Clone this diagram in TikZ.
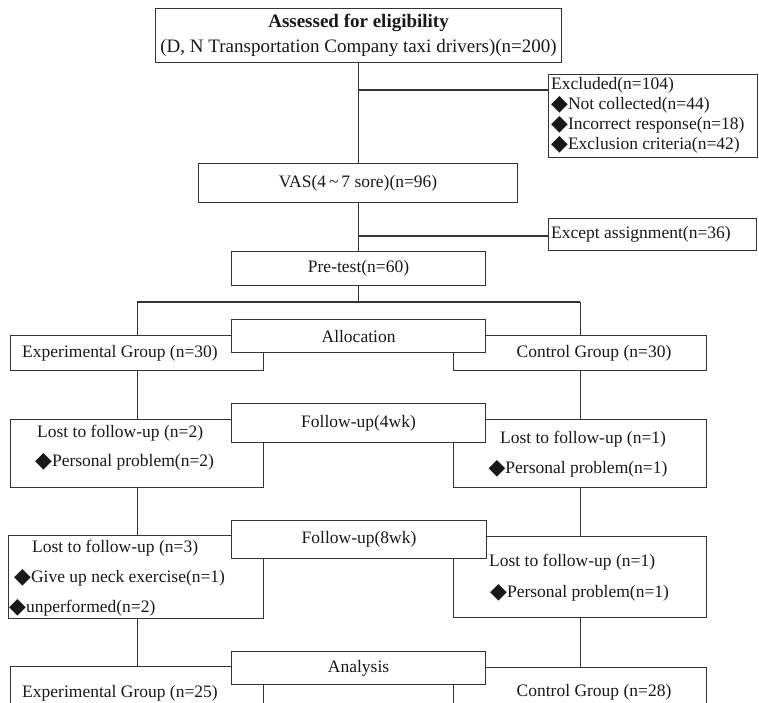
\documentclass[tikz,border=0pt]{standalone}
\usepackage{fontspec}
\setmainfont{Liberation Serif}
\newfontfamily\dvfont[Scale=1.25]{DejaVu Sans}
\newcommand\dmd{{\dvfont\raisebox{-0.5pt}{◆}}}
\definecolor{ln}{HTML}{333333}
\begin{document}
\begin{tikzpicture}[x=1pt,y=-1pt,
  every node/.style={font=\fontsize{17.5}{20}\selectfont, text=black!90},
  box/.style={draw=ln, line width=1.1pt, fill=white, inner sep=0, anchor=north west},
  conn/.style={draw=ln, line width=1.1pt},
  lbl/.style={inner sep=0, anchor=west},
  ctr/.style={inner sep=0}]
\useasboundingbox (0,0) rectangle (759,702);
\clip (0,0) rectangle (759,702);
\fill[white] (0,0) rectangle (759,702);

% top part
\node[box, minimum width=406, minimum height=54, align=center,
      font=\fontsize{19}{25}\selectfont] (top) at (155,8)
  {\textbf{Assessed for eligibility}\\(D, N Transportation Company taxi drivers)(n=200)};
\node[box, minimum width=209, minimum height=83] (exc) at (548,74) {};
\node[lbl] (exc1) at (551,85) {Excluded(n=104)};
\node[lbl] (exc2) at (551,105) {\dmd Not collected(n=44)};
\node[lbl] (exc3) at (551,125) {\dmd Incorrect response(n=18)};
\node[lbl] (exc4) at (551,145) {\dmd Exclusion criteria(n=42)};
\node[box, minimum width=319, minimum height=39] (vas) at (198,163) {VAS(4\,\char"007E\,7 sore)(n=96)};
\node[box, minimum width=208, minimum height=32] (exa) at (548,218) {};
\node[lbl] (exat) at (551,234) {Except assignment(n=36)};
\node[box, minimum width=254, minimum height=34] (pre) at (231,251) {Pre-test(n=60)};

% allocation row
\node[box, minimum width=253, minimum height=35] (expA) at (10,335) {};
\node[box, minimum width=253, minimum height=35] (conA) at (453,335) {};
\node[box, minimum width=254, minimum height=33] (alloc) at (231,319) {Allocation};
\node[ctr] (expAt) at (120,353) {Experimental Group (n=30)};
\node[ctr] (conAt) at (594,353) {Control Group (n=30)};

% follow-up 4wk row
\node[box, minimum width=253, minimum height=68] (lostL1) at (10,419) {};
\node[box, minimum width=253, minimum height=68] (lostR1) at (453,419) {};
\node[box, minimum width=254, minimum height=39] (fu4) at (231,403) {Follow-up(4wk)};
\node[lbl] (l1a) at (37,433) {Lost to follow-up (n=2)};
\node[lbl] (l1b) at (35,462) {\dmd Personal problem(n=2)};
\node[ctr] (r1a) at (583,439) {Lost to follow-up (n=1)};
\node[ctr] (r1b) at (578,469) {\dmd Personal problem(n=1)};

% follow-up 8wk row
\node[box, minimum width=255, minimum height=83] (lostL2) at (8,535) {};
\node[box, minimum width=253, minimum height=81] (lostR2) at (453,536) {};
\node[box, minimum width=255, minimum height=38] (fu8) at (231,520) {Follow-up(8wk)};
\node[lbl] (l2a) at (32,548) {Lost to follow-up (n=3)};
\node[lbl] (l2b) at (14,578) {\dmd Give up neck exercise(n=1)};
\node[lbl] (l2c) at (9,608) {\dmd unperformed(n=2)};
\node[lbl] (r2a) at (489,562) {Lost to follow-up (n=1)};
\node[lbl] (r2b) at (490,593) {\dmd Personal problem(n=1)};

% analysis row
\node[box, minimum width=253, minimum height=50] (expB) at (10,666) {};
\node[box, minimum width=253, minimum height=50] (conB) at (453,667) {};
\node[box, minimum width=254, minimum height=33] (ana) at (231,651) {Analysis};
\node[ctr] (expBt) at (120,693) {Experimental Group (n=25)};
\node[ctr] (conBt) at (594,692) {Control Group (n=28)};

% connectors
\coordinate (j1) at (358,90);
\coordinate (j2) at (358,236);
\coordinate (j3) at (358,302);
\draw[conn] (top.south) -- (top.south |- vas.north);
\draw[conn] (j1) -- (j1 -| exc.west);
\draw[conn] (vas.south) -- (vas.south |- pre.north);
\draw[conn] (j2) -- (j2 -| exa.west);
\draw[conn] (pre.south) -- (pre.south |- j3);
\draw[conn] (expA.north |- j3) -- (conA.north |- j3);
\draw[conn] (expA.north |- j3) -- (expA.north);
\draw[conn] (conA.north |- j3) -- (conA.north);
\draw[conn] (expA.south) -- (lostL1.north);
\draw[conn] (conA.south) -- (lostR1.north);
\draw[conn] (lostL1.south) -- (lostL1.south |- lostL2.north);
\draw[conn] (lostR1.south) -- (lostR1.south |- lostR2.north);
\draw[conn] (lostL2.south -| lostL1.south) -- (lostL1.south |- expB.north);
\draw[conn] (lostR2.south) -- (lostR2.south |- conB.north);
\end{tikzpicture}
\end{document}
